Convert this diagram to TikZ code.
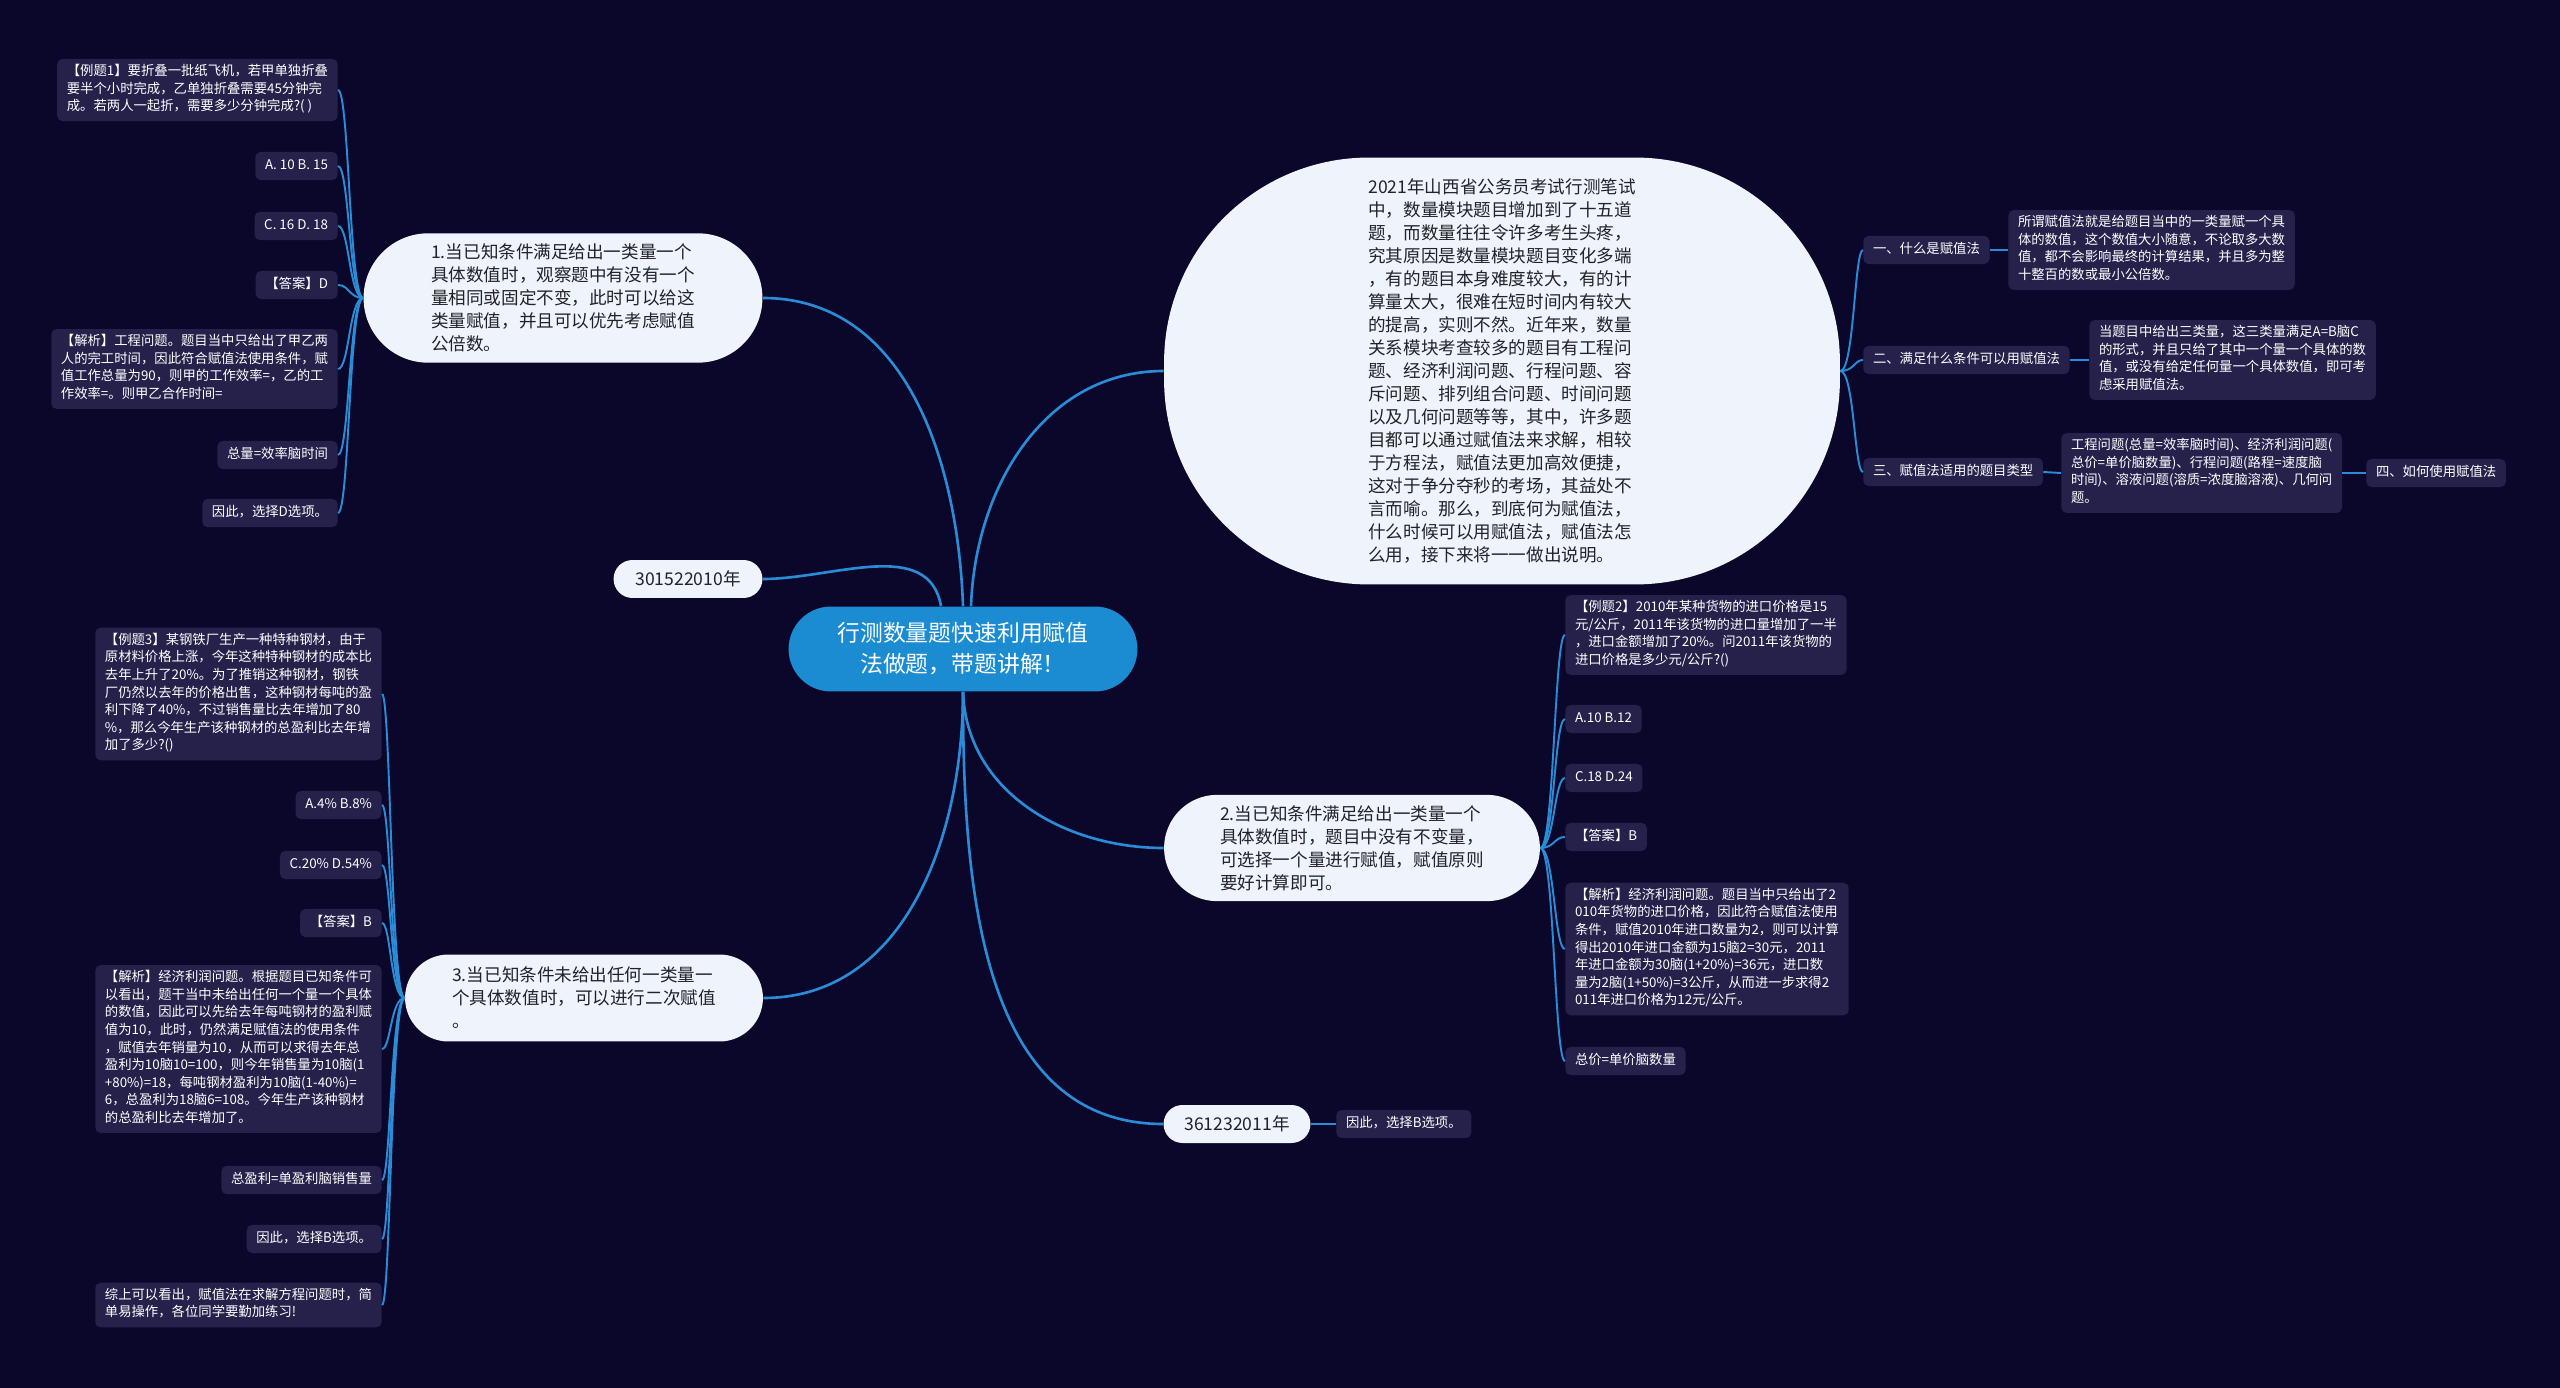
\documentclass[tikz,border=0pt]{standalone}
\usepackage{fontspec}
\setmainfont{Noto Sans CJK SC}
\usetikzlibrary{calc}
\usetikzlibrary{shapes.misc}

\definecolor{pagebg}{RGB}{10,7,42}
\definecolor{leafbg}{RGB}{37,33,75}
\definecolor{linkblue}{RGB}{42,140,214}
\definecolor{branchbg}{RGB}{238,243,252}
\definecolor{branchtxt}{RGB}{34,34,40}
\definecolor{rootbg}{RGB}{27,139,210}

\tikzset{
  leaf/.style={fill=leafbg, text=white, rounded corners=3pt, inner xsep=5.5pt, inner ysep=3pt,
    align=left, font=\fontsize{7.6}{10}\selectfont,
    execute at begin node=\strut, execute at end node=\strut},
  branch/.style={rounded rectangle, fill=branchbg, text=branchtxt, inner xsep=4pt, inner ysep=6pt,
    align=left, font=\fontsize{10}{13.1}\selectfont},
  rootnode/.style={rounded rectangle, fill=rootbg, text=white, inner xsep=4pt, inner ysep=6pt,
    align=center, font=\fontsize{13}{17.6}\selectfont},
  link/.style={draw=linkblue, line width=1.1pt},
  mainlink/.style={draw=linkblue, line width=1.5pt},
}

\begin{document}
\begin{tikzpicture}[x=0.02cm,y=-0.02cm]
\fill[pagebg] (0,0) rectangle (2560,1388);
\useasboundingbox (0,0) rectangle (2560,1388);

% centre and main branches
\node[rootnode, minimum width=7.26cm, minimum height=1.7cm] (root) at (963,649) {行测数量题快速利用赋值\\法做题，带题讲解！};
\node[branch, minimum width=8.26cm, minimum height=2.58cm] (b1) at (563,298) {1.当已知条件满足给出一类量一个\\具体数值时，观察题中有没有一个\\量相同或固定不变，此时可以给这\\类量赋值，并且可以优先考虑赋值\\公倍数。};
\node[branch, minimum width=3.26cm, minimum height=0.76cm, inner ysep=2pt] (y2010) at (688,579) {301522010年};
\node[branch, minimum width=7.44cm, minimum height=1.74cm] (b3) at (584,998) {3.当已知条件未给出任何一类量一\\个具体数值时，可以进行二次赋值\\。};
\node[fill=branchbg, text=branchtxt, rounded corners=4.1cm, minimum width=13.52cm, minimum height=8.54cm,
  align=left, font=\fontsize{10}{13.1}\selectfont] (intro) at (1502,371) {2021年山西省公务员考试行测笔试\\中，数量模块题目增加到了十五道\\题，而数量往往令许多考生头疼，\\究其原因是数量模块题目变化多端\\，有的题目本身难度较大，有的计\\算量太大，很难在短时间内有较大\\的提高，实则不然。近年来，数量\\关系模块考查较多的题目有工程问\\题、经济利润问题、行程问题、容\\斥问题、排列组合问题、时间问题\\以及几何问题等等，其中，许多题\\目都可以通过赋值法来求解，相较\\于方程法，赋值法更加高效便捷，\\这对于争分夺秒的考场，其益处不\\言而喻。那么，到底何为赋值法，\\什么时候可以用赋值法，赋值法怎\\么用，接下来将一一做出说明。};
\node[branch, minimum width=7.80cm, minimum height=2.12cm] (b2) at (1352,848) {2.当已知条件满足给出一类量一个\\具体数值时，题目中没有不变量，\\可选择一个量进行赋值，赋值原则\\要好计算即可。};
\node[branch, minimum width=3.22cm, minimum height=0.76cm, inner ysep=2pt] (y2011) at (1237,1124) {361232011年};

% branch 1 leaves
\node[leaf, anchor=east] (la1) at (338,90) {【例题1】要折叠一批纸飞机，若甲单独折叠\\要半个小时完成，乙单独折叠需要45分钟完\\成。若两人一起折，需要多少分钟完成?( )};
\node[leaf, anchor=east] (la2) at (338,166) {A. 10 B. 15};
\node[leaf, anchor=east] (la3) at (338,226) {C. 16 D. 18};
\node[leaf, anchor=east] (la4) at (338,285) {【答案】D};
\node[leaf, anchor=east] (la5) at (338,369) {【解析】工程问题。题目当中只给出了甲乙两\\人的完工时间，因此符合赋值法使用条件，赋\\值工作总量为90，则甲的工作效率=，乙的工\\作效率=。则甲乙合作时间=};
\node[leaf, anchor=east] (la6) at (338,455) {总量=效率脑时间};
\node[leaf, anchor=east] (la7) at (338,513) {因此，选择D选项。};

% branch 3 leaves
\node[leaf, anchor=east] (lb1) at (382,694) {【例题3】某钢铁厂生产一种特种钢材，由于\\原材料价格上涨，今年这种特种钢材的成本比\\去年上升了20\%。为了推销这种钢材，钢铁\\厂仍然以去年的价格出售，这种钢材每吨的盈\\利下降了40\%，不过销售量比去年增加了80\\\%，那么今年生产该种钢材的总盈利比去年增\\加了多少?()};
\node[leaf, anchor=east] (lb2) at (382,805) {A.4\% B.8\%};
\node[leaf, anchor=east] (lb3) at (382,865) {C.20\% D.54\%};
\node[leaf, anchor=east] (lb4) at (382,923) {【答案】B};
\node[leaf, anchor=east] (lb5) at (382,1049) {【解析】经济利润问题。根据题目已知条件可\\以看出，题干当中未给出任何一个量一个具体\\的数值，因此可以先给去年每吨钢材的盈利赋\\值为10，此时，仍然满足赋值法的使用条件\\，赋值去年销量为10，从而可以求得去年总\\盈利为10脑10=100，则今年销售量为10脑(1\\+80\%)=18，每吨钢材盈利为10脑(1-40\%)=\\6，总盈利为18脑6=108。今年生产该种钢材\\的总盈利比去年增加了。};
\node[leaf, anchor=east] (lb6) at (382,1180) {总盈利=单盈利脑销售量};
\node[leaf, anchor=east] (lb7) at (382,1239) {因此，选择B选项。};
\node[leaf, anchor=east] (lb8) at (382,1305) {综上可以看出，赋值法在求解方程问题时，简\\单易操作，各位同学要勤加练习!};

% branch 2 leaves
\node[leaf, anchor=west] (lc1) at (1565,635) {【例题2】2010年某种货物的进口价格是15\\元/公斤，2011年该货物的进口量增加了一半\\，进口金额增加了20\%。问2011年该货物的\\进口价格是多少元/公斤?()};
\node[leaf, anchor=west] (lc2) at (1565,719) {A.10 B.12};
\node[leaf, anchor=west] (lc3) at (1565,778) {C.18 D.24};
\node[leaf, anchor=west] (lc4) at (1565,837) {【答案】B};
\node[leaf, anchor=west] (lc5) at (1565,949) {【解析】经济利润问题。题目当中只给出了2\\010年货物的进口价格，因此符合赋值法使用\\条件，赋值2010年进口数量为2，则可以计算\\得出2010年进口金额为15脑2=30元，2011\\年进口金额为30脑(1+20\%)=36元，进口数\\量为2脑(1+50\%)=3公斤，从而进一步求得2\\011年进口价格为12元/公斤。};
\node[leaf, anchor=west] (lc6) at (1565,1061) {总价=单价脑数量};
\node[leaf, anchor=west] (lz) at (1336,1124) {因此，选择B选项。};

% intro leaves
\node[leaf, anchor=west] (ld1) at (1863,250) {一、什么是赋值法};
\node[leaf, anchor=west] (ld2) at (1863,360) {二、满足什么条件可以用赋值法};
\node[leaf, anchor=west] (ld3) at (1863,472) {三、赋值法适用的题目类型};
\node[leaf, anchor=west] (ld1a) at (2008,250) {所谓赋值法就是给题目当中的一类量赋一个具\\体的数值，这个数值大小随意，不论取多大数\\值，都不会影响最终的计算结果，并且多为整\\十整百的数或最小公倍数。};
\node[leaf, anchor=west] (ld2a) at (2089,360) {当题目中给出三类量，这三类量满足A=B脑C\\的形式，并且只给了其中一个量一个具体的数\\值，或没有给定任何量一个具体数值，即可考\\虑采用赋值法。};
\node[leaf, anchor=west] (ld3a) at (2061,473) {工程问题(总量=效率脑时间)、经济利润问题(\\总价=单价脑数量)、行程问题(路程=速度脑\\时间)、溶液问题(溶质=浓度脑溶液)、几何问\\题。};
\node[leaf, anchor=west] (ld4) at (2366,473) {四、如何使用赋值法};

% connectors from the centre
\draw[mainlink] (root.north) to[out=92,in=0] (b1.east);
\draw[mainlink] ($(root.north)+(-22,0)$) to[out=100,in=0] (y2010.east);
\draw[mainlink] ($(root.north)+(8,0)$) to[out=88,in=180] (intro.west);
\draw[mainlink] (root.south) to[out=-90,in=0] (b3.east);
\draw[mainlink] (root.south) to[out=-88,in=180] (b2.west);
\draw[mainlink] (root.south) to[out=-90,in=180] (y2011.west);

% connectors to leaves
\coordinate (tA) at ($(b1.west)+(-14,0)$);
\foreach \i in {1,...,7}
  \draw[link] (b1.west) .. controls (tA) and (tA |- la\i.east) .. (la\i.east);
\coordinate (tB) at ($(b3.west)+(-14,0)$);
\foreach \i in {1,...,8}
  \draw[link] (b3.west) .. controls (tB) and (tB |- lb\i.east) .. (lb\i.east);
\coordinate (tC) at ($(b2.east)+(14,0)$);
\foreach \i in {1,...,6}
  \draw[link] (b2.east) .. controls (tC) and (tC |- lc\i.west) .. (lc\i.west);
\coordinate (tD) at ($(intro.east)+(14,0)$);
\foreach \i in {1,...,3}
  \draw[link] (intro.east) .. controls (tD) and (tD |- ld\i.west) .. (ld\i.west);
\draw[link] (ld1.east) -- (ld1a.west);
\draw[link] (ld2.east) -- (ld2a.west);
\draw[link] (ld3.east) -- (ld3a.west);
\draw[link] (ld3a.east) -- (ld4.west);
\draw[link] (y2011.east) -- (lz.west);
\end{tikzpicture}
\end{document}
